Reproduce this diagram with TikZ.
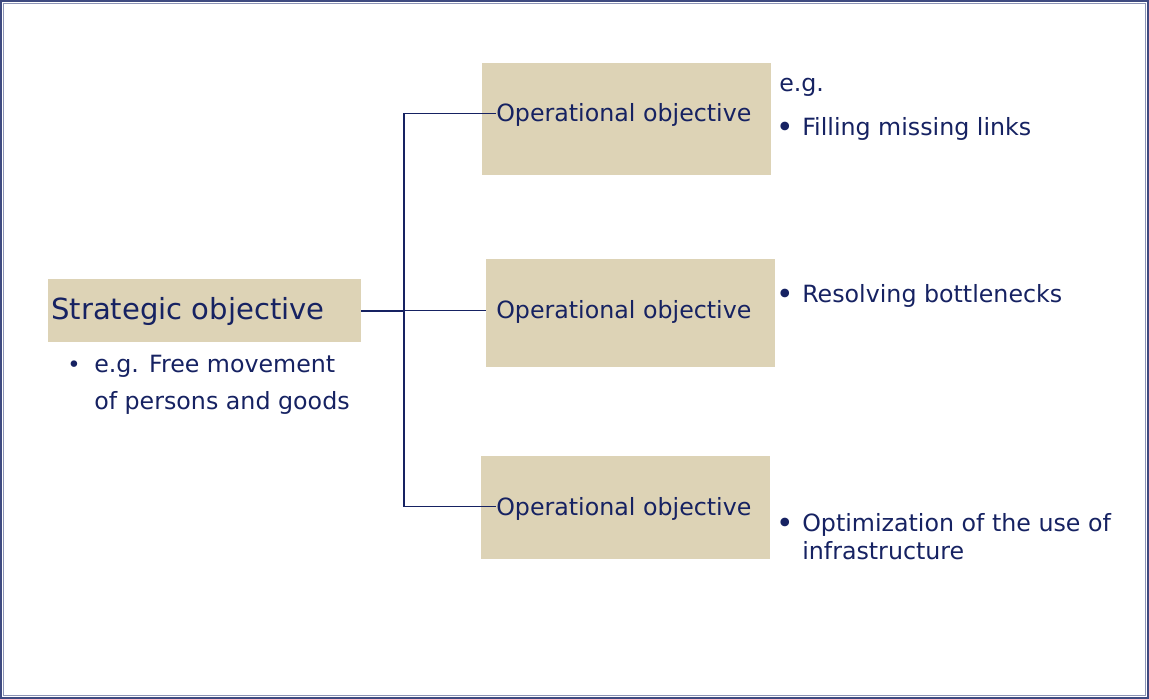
\documentclass[tikz,border=0pt]{standalone}
\usepackage{fontspec}
\setmainfont{DejaVu Sans}
\usetikzlibrary{arrows}

\definecolor{navy}{RGB}{22,34,98}
\definecolor{sand}{RGB}{221,211,182}
\definecolor{frameout}{RGB}{62,74,128}
\definecolor{framein}{RGB}{140,148,182}
\newcommand{\itm}{\makebox[19.5pt][l]{\raisebox{-1.8pt}{\scalebox{1.25}{\textbullet}}}}
\newcommand{\sitm}{\makebox[20.25pt][l]{\raisebox{-0.6pt}{\scalebox{0.95}{\textbullet}}}}

\begin{document}
\begin{tikzpicture}[x=0.75pt,y=-0.75pt,
	box/.style={rectangle,fill=sand,inner sep=0pt},
	optext/.style={inner sep=0pt,anchor=base west,text=navy,font=\fontsize{17.8}{21}\selectfont,text height=12.8pt,text depth=0pt},
	note/.style={inner sep=0pt,anchor=base west,text=navy,font=\fontsize{17.8}{21}\selectfont,align=left},
	link/.style={draw=navy,line width=0.9pt}]
	\useasboundingbox (0,0) rectangle (1149,699);
	\draw[frameout,line width=1.2pt] (1,1) rectangle (1148,698);
	\draw[framein,line width=0.8pt] (3.5,3.5) rectangle (1145.5,695.5);

	% strategic level
	\node[box,minimum width=234.75pt,minimum height=47.25pt] (strat) at (204.5,310.5) {};
	\node[optext,font=\fontsize{21.8}{26}\selectfont] (stratt) at (51,319) {Strategic objective};
	\node[note,font=\fontsize{17.8}{27.75}\selectfont] (stratnote) at (67,409)
		{\sitm e.g. Free movement\\\hspace*{20.25pt}of persons and goods};

	% operational level
	\node[box,minimum width=216.75pt,minimum height=84pt] (op1) at (626.5,119) {};
	\node[optext] (op1t) at (496,122) {Operational objective};
	\node[box,minimum width=216.75pt,minimum height=81pt] (op2) at (630.5,313) {};
	\node[optext] (op2t) at (496,318) {Operational objective};
	\node[box,minimum width=216.75pt,minimum height=77.25pt] (op3) at (625.5,507.5) {};
	\node[optext] (op3t) at (496,515) {Operational objective};

	% examples
	\node[note] (eg) at (779,92) {e.g.};
	\node[note] (ex1) at (776,135) {\itm Filling missing links};
	\node[note] (ex2) at (776,302) {\itm Resolving bottlenecks};
	\node[note] (ex3) at (776,559) {\itm Optimization of the use of\\\hspace*{19.5pt}infrastructure};

	% connectors
	\coordinate (j) at (404,310.5);
	\draw[link,line width=1.5pt] (strat.east) -- (j);
	\draw[link] (j) -- (j -| op2.west);
	\draw[link] (op1t.west) -| (j) |- (op3t.west);
\end{tikzpicture}
\end{document}
